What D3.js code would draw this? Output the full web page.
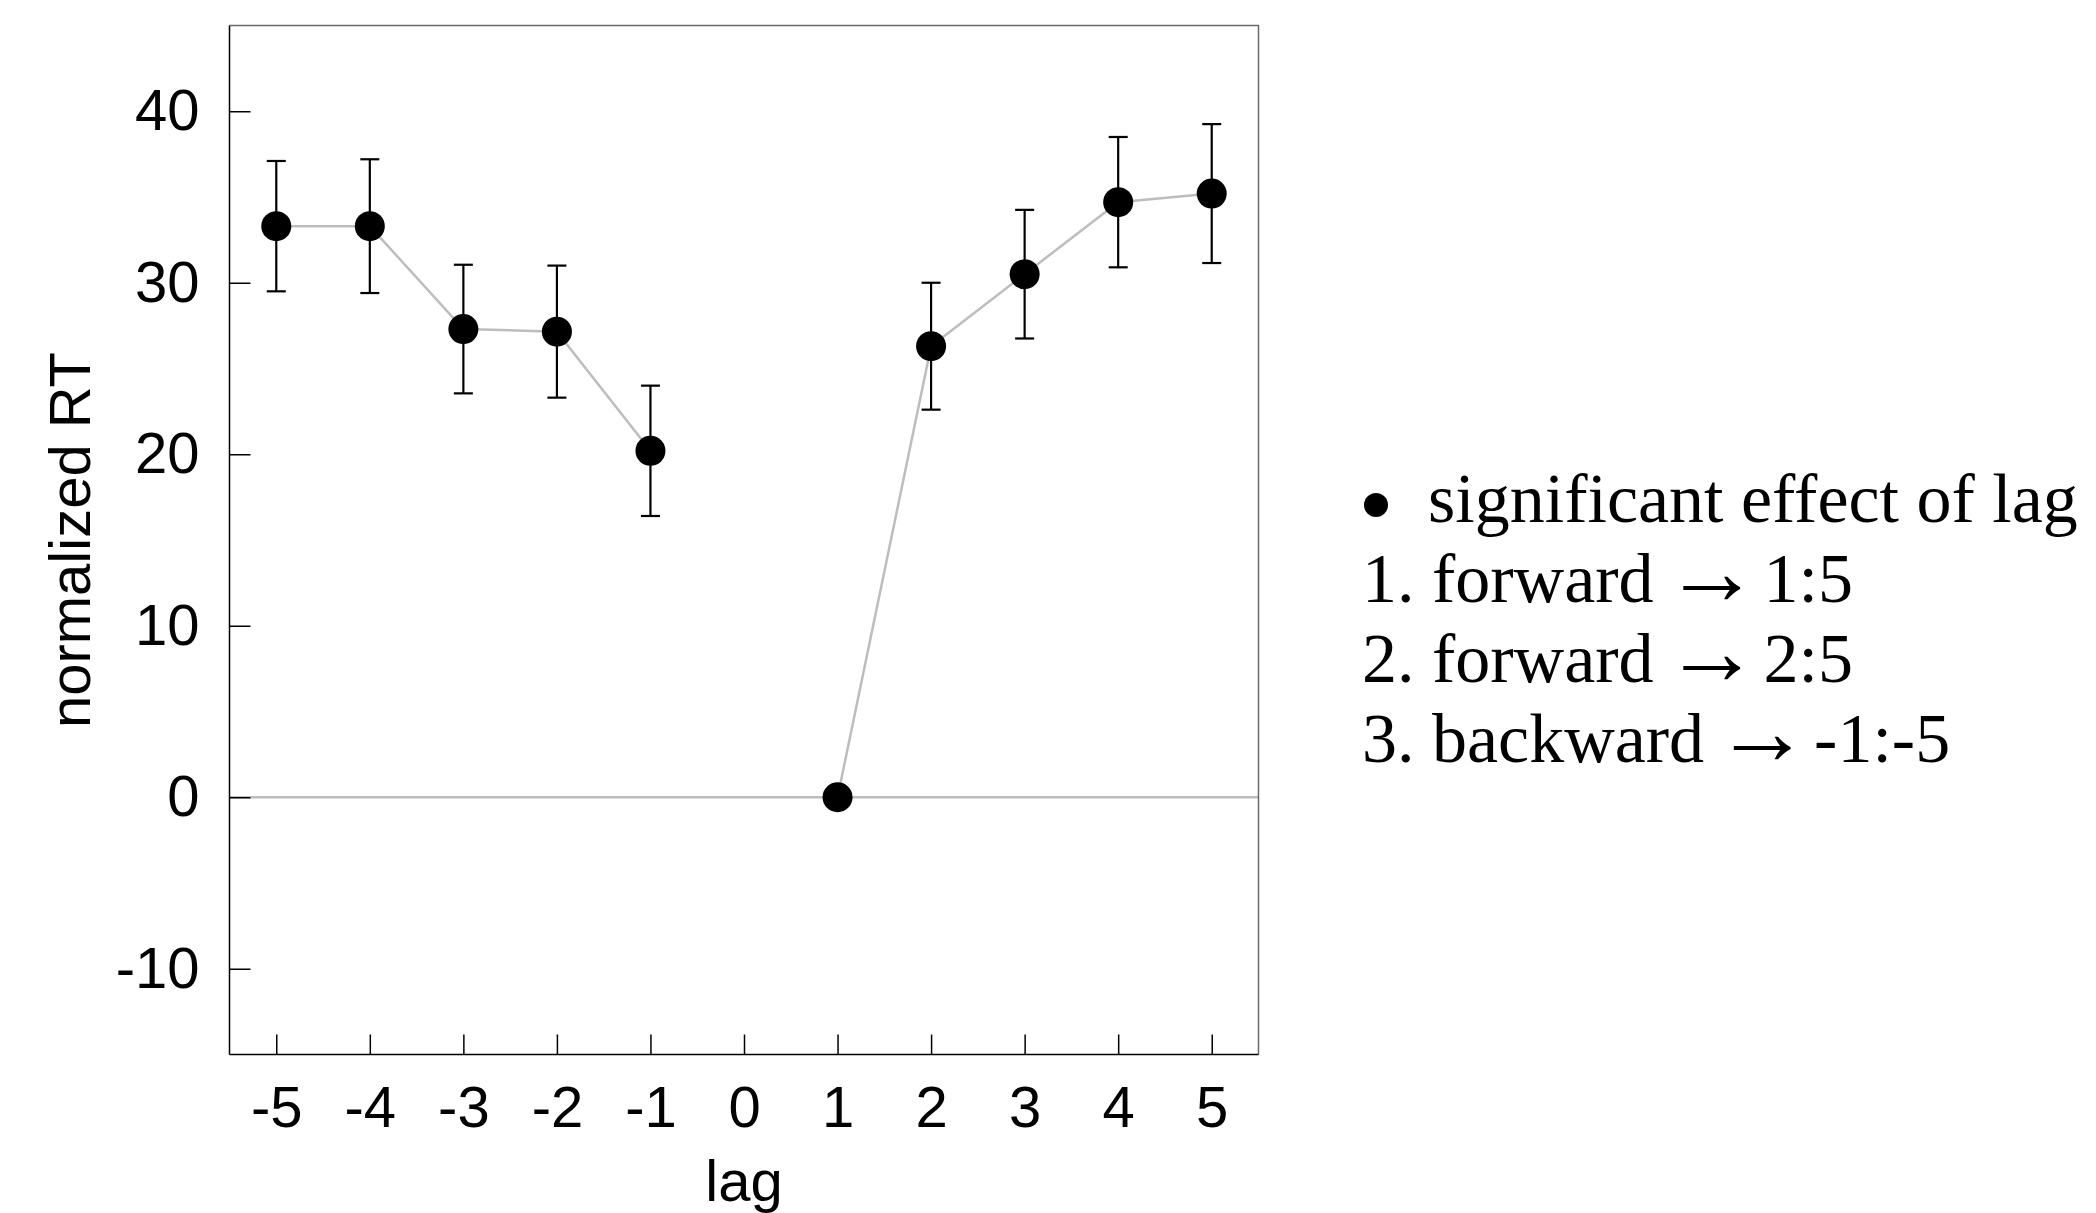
<!DOCTYPE html>
<html>
<head>
<meta charset="utf-8">
<script src="https://cdn.jsdelivr.net/npm/d3@7"></script>
<style>
    body { margin: 0; background: #fff; }
    svg { display: block; }
</style>
</head>
<body>
<div id="chart"></div>
<script>
// lag positions, mean normalized RT and error bar half-widths
var lags = [-5, -4, -3, -2, -1, 0, 1, 2, 3, 4, 5];
var meanRT = [33.3, 33.3, 27.3, 27.15, 20.2, null, 0, 26.3, 30.5, 34.7, 35.2];
var errRT = [3.8, 3.9, 3.75, 3.85, 3.8, null, 0, 3.7, 3.75, 3.8, 4.05];
var yTicks = [-10, 0, 10, 20, 30, 40];

// legend rows: [prefix, target] (arrow drawn between them)
var legendTitle = "significant effect of lag";
var legendRows = [
    ["1. forward", "1:5"],
    ["2. forward", "2:5"],
    ["3. backward", "-1:-5"]
];

function init() {
    const w = 2096;
    const h = 1213;
    const sans = "'Liberation Sans', Arial, Helvetica, sans-serif";
    const serif = "'Liberation Serif', 'Times New Roman', serif";

    var data = lags.map((d, i) => {
        return { lag: d, mean: meanRT[i], err: errRT[i] };
    });

    var svg = d3.select("#chart")
        .append("svg")
        .attr("width", w)
        .attr("height", h);

    var left = 229.5, right = 1258.5, top = 25.5, bottom = 1054.5;

    var xScale = d3.scaleLinear()
        .domain([-5.5, 5.5])
        .range([left, right]);

    var yScale = d3.scaleLinear()
        .domain([-15, 45])
        .range([bottom, top]);

    // zero reference line
    svg.append("line")
        .attr("x1", left)
        .attr("x2", right)
        .attr("y1", yScale(0))
        .attr("y2", yScale(0))
        .attr("stroke", "#bdbdbd")
        .attr("stroke-width", 2.5);

    // frame: top/right gray, left/bottom black
    svg.append("path")
        .attr("d", `M${left},${top}H${right}V${bottom}`)
        .attr("fill", "none")
        .attr("stroke", "#6a6a6a")
        .attr("stroke-width", 1.5);

    // axes with inward ticks, plain hyphen for negatives
    var fmt = (d) => String(d);

    var xAxis = svg.append("g")
        .attr("transform", `translate(0,${bottom})`)
        .call(d3.axisBottom(xScale)
            .tickValues(lags)
            .tickFormat(fmt)
            .tickSizeInner(-20)
            .tickSizeOuter(0)
            .tickPadding(31));

    var yAxis = svg.append("g")
        .attr("transform", `translate(${left},0)`)
        .call(d3.axisLeft(yScale)
            .tickValues(yTicks)
            .tickFormat(fmt)
            .tickSizeInner(-21)
            .tickSizeOuter(0)
            .tickPadding(30));

    [xAxis, yAxis].forEach((ax) => {
        ax.select(".domain")
            .attr("stroke", "#000")
            .attr("stroke-width", 1.5);
        ax.selectAll(".tick line")
            .attr("stroke", "#000")
            .attr("stroke-width", 1.5);
        ax.selectAll(".tick text")
            .attr("fill", "#000")
            .style("font-family", sans)
            .style("font-size", "58px");
    });
    // domain lines should span the whole frame
    xAxis.select(".domain").attr("d", `M${left},0H${right}`);
    yAxis.select(".domain").attr("d", `M0,${top}V${bottom}`);

    // axis titles
    svg.append("text")
        .attr("x", xScale(0))
        .attr("y", 1201)
        .attr("text-anchor", "middle")
        .style("font-family", sans)
        .style("font-size", "58px")
        .text("lag");

    svg.append("text")
        .attr("transform", `translate(90,${(top + bottom) / 2}) rotate(-90)`)
        .attr("text-anchor", "middle")
        .style("font-family", sans)
        .style("font-size", "58px")
        .text("normalized RT");

    // connecting line, broken at lag 0
    var line = d3.line()
        .defined((d) => d.mean != null)
        .x((d) => xScale(d.lag))
        .y((d) => yScale(d.mean));

    svg.append("path")
        .datum(data)
        .attr("d", line)
        .attr("fill", "none")
        .attr("stroke", "#bdbdbd")
        .attr("stroke-width", 2.5);

    var pts = data.filter((d) => d.mean != null);

    // error bars
    var bars = svg.selectAll("g.err")
        .data(pts.filter((d) => d.err > 0))
        .enter()
        .append("g")
        .attr("class", "err")
        .attr("stroke", "#000")
        .attr("stroke-width", 2.2);

    bars.append("line")
        .attr("x1", (d) => xScale(d.lag))
        .attr("x2", (d) => xScale(d.lag))
        .attr("y1", (d) => yScale(d.mean + d.err))
        .attr("y2", (d) => yScale(d.mean - d.err));

    bars.append("line")
        .attr("x1", (d) => xScale(d.lag) - 9.5)
        .attr("x2", (d) => xScale(d.lag) + 9.5)
        .attr("y1", (d) => yScale(d.mean + d.err))
        .attr("y2", (d) => yScale(d.mean + d.err));

    bars.append("line")
        .attr("x1", (d) => xScale(d.lag) - 9.5)
        .attr("x2", (d) => xScale(d.lag) + 9.5)
        .attr("y1", (d) => yScale(d.mean - d.err))
        .attr("y2", (d) => yScale(d.mean - d.err));

    // points
    svg.selectAll("circle.pt")
        .data(pts)
        .enter()
        .append("circle")
        .attr("class", "pt")
        .attr("cx", (d) => xScale(d.lag))
        .attr("cy", (d) => yScale(d.mean))
        .attr("r", 15)
        .attr("fill", "#000");

    // legend
    svg.append("circle")
        .attr("cx", 1376)
        .attr("cy", 505)
        .attr("r", 12)
        .attr("fill", "#000");

    svg.append("text")
        .attr("x", 1428)
        .attr("y", 521.5)
        .style("font-family", serif)
        .style("font-size", "70px")
        .text(legendTitle);

    var rows = svg.selectAll("text.legend")
        .data(legendRows)
        .enter()
        .append("text")
        .attr("class", "legend")
        .attr("x", 1362)
        .attr("y", (d, i) => 601.5 + i * 80)
        .style("font-family", serif)
        .style("font-size", "70px")
        .attr("fill", "#000");

    rows.append("tspan").text((d) => d[0]);
    // thin math-style arrow: the serif arrow, enlarged
    rows.append("tspan")
        .attr("dx", 10)
        .attr("dy", 2)
        .style("font-size", "96px")
        .text("\u2192");
    rows.append("tspan")
        .attr("dx", 4)
        .attr("dy", -2)
        .text((d) => d[1]);
}
window.onload = init();
</script>
</body>
</html>
